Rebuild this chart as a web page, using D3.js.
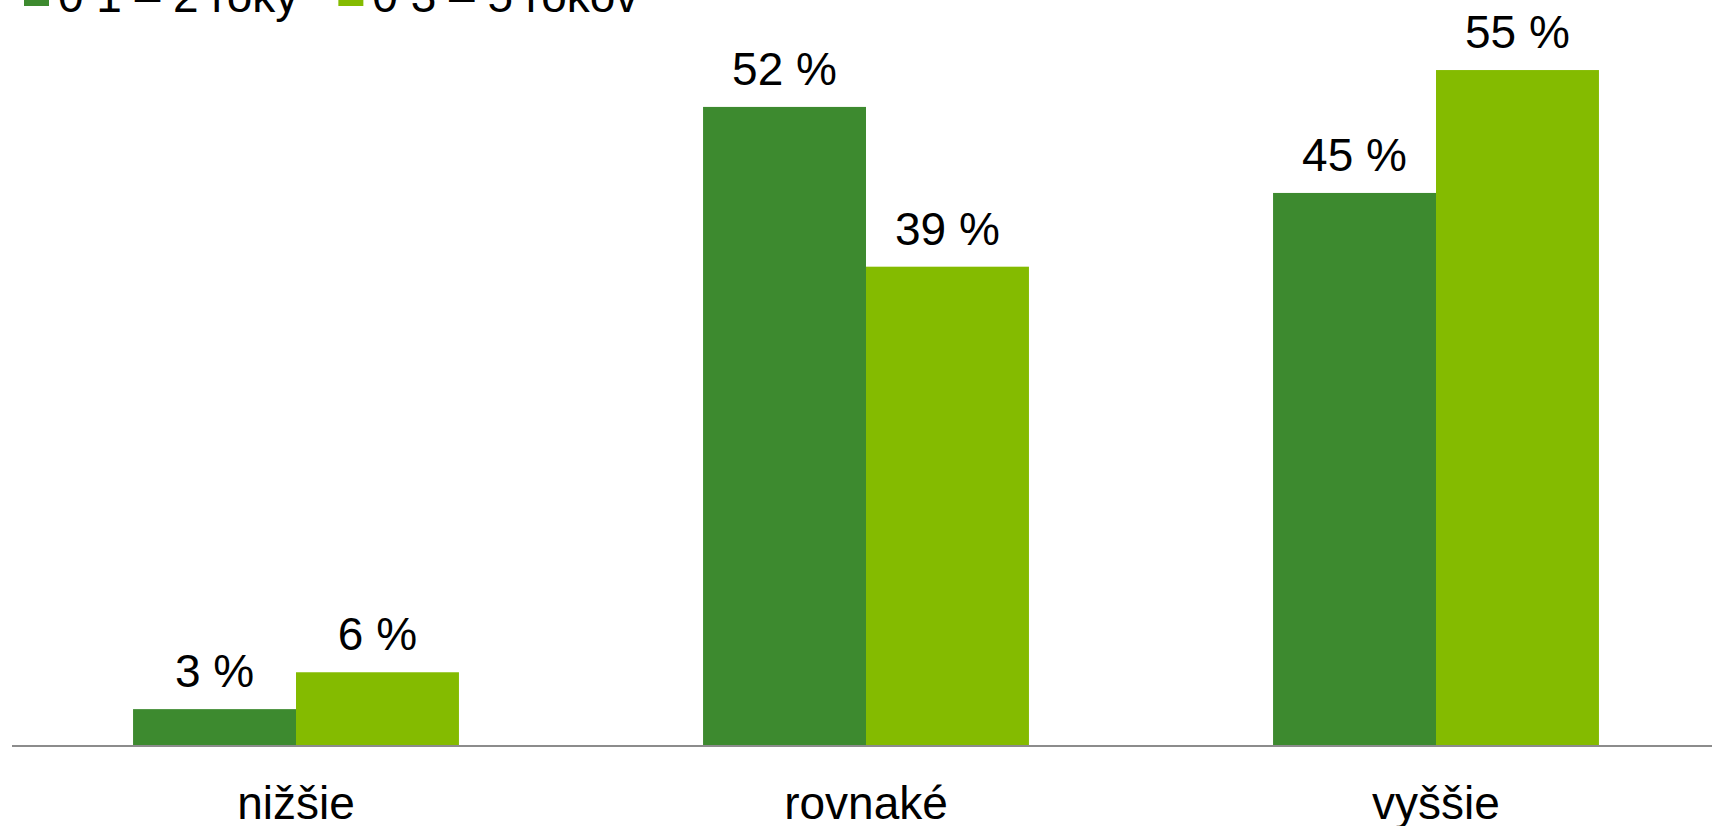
<!DOCTYPE html>
<html>
<head>
<meta charset="utf-8">
<script src="https://cdn.jsdelivr.net/npm/d3@7/dist/d3.min.js"></script>
<style>
  html, body { margin: 0; padding: 0; background: #ffffff; }
  svg { display: block; }
  text { font-family: "Liberation Sans", Arial, Helvetica, sans-serif; fill: #000; }
</style>
</head>
<body>
<svg id="chart" width="1712" height="826"></svg>
<script>
const categories = ["nižšie", "rovnaké", "vyššie"];
const seriesNames = ["0 1 – 2 roky", "0 3 – 5 rokov"];
const series1 = [3, 52, 45];
const series2 = [6, 39, 55];
const colors = ["#3d8a2f", "#84bb00"];

const W = 1712, H = 826;
const svg = d3.select("#chart");

const baseY = 746;
const x0 = d3.scaleBand().domain(categories).range([11, 1721]).paddingInner(0).paddingOuter(0);
const x1 = d3.scaleBand().domain(seriesNames).range([0, x0.bandwidth()]).paddingInner(0).paddingOuter(0.749);
const y = d3.scaleLinear().domain([0, 60]).range([baseY, baseY - 60 * 12.29]);

const data = categories.map((c, i) => ({ cat: c, vals: [series1[i], series2[i]] }));

const g = svg.append("g");
const groups = g.selectAll("g.grp").data(data).join("g")
  .attr("class", "grp")
  .attr("transform", d => `translate(${x0(d.cat)},0)`);

groups.selectAll("rect").data(d => d.vals.map((v, k) => ({ v, k })))
  .join("rect")
  .attr("x", d => x1(seriesNames[d.k]))
  .attr("width", x1.bandwidth())
  .attr("y", d => y(d.v))
  .attr("height", d => y(0) - y(d.v))
  .attr("fill", d => colors[d.k]);

groups.selectAll("text.val").data(d => d.vals.map((v, k) => ({ v, k })))
  .join("text")
  .attr("class", "val")
  .attr("x", d => x1(seriesNames[d.k]) + x1.bandwidth() / 2)
  .attr("y", d => y(d.v) - 22)
  .attr("text-anchor", "middle")
  .attr("font-size", 46)
  .text(d => d.v + " %");

// axis
const xAxis = d3.axisBottom(x0).tickSize(0).tickPadding(0);
const ax = svg.append("g").attr("transform", `translate(0,${baseY})`).call(xAxis);
ax.select(".domain").attr("d", `M12,0H${W}`).attr("stroke", "#8c8c8c").attr("stroke-width", 2);
ax.selectAll(".tick text")
  .attr("y", 73)
  .attr("dy", 0)
  .attr("font-size", 46)
  .style("font-family", "'Liberation Sans', Arial, sans-serif")
  .attr("fill", "#000");

// legend
const leg = svg.append("g");
let lx = 24;
seriesNames.forEach((name, k) => {
  leg.append("rect").attr("x", lx).attr("y", -19).attr("width", 25).attr("height", 25).attr("fill", colors[k]);
  const t = leg.append("text").attr("x", lx + 34).attr("y", 12).attr("font-size", 46).text(name);
  lx = lx + 34 + t.node().getComputedTextLength() + 40;
});
</script>
</body>
</html>
